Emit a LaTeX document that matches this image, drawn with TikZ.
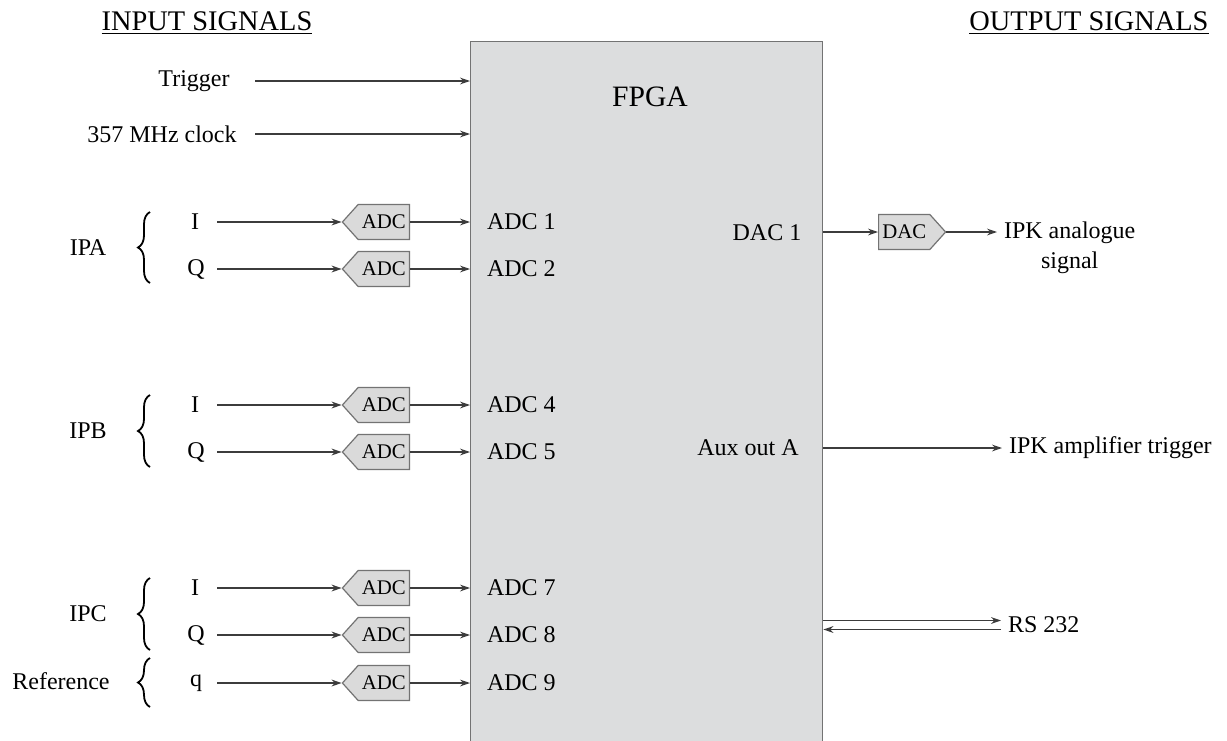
\documentclass[tikz,border=0pt]{standalone}
\usepackage{fontspec}
\setmainfont{Liberation Serif}
\usetikzlibrary{arrows.meta,shapes.symbols,decorations.pathreplacing,calc}
\definecolor{boxgray} {RGB}{220,221,222}
\definecolor{adcgray} {RGB}{218,218,218}
\definecolor{edgegray}{RGB}{115,115,115}
\definecolor{wiregray}{RGB}{60, 60, 60}

\begin{document}
\begin{tikzpicture}[x=0.5pt,y=-0.5pt,
  every node/.style={font=\fontsize{12}{14.8}\selectfont},
  hdr/.style={font=\fontsize{14.2}{17}\selectfont},
  sig/.style={draw=wiregray,line width=0.65pt,
              -{Stealth[length=5pt,width=3.4pt,inset=1.6pt]}},
  conv/.style={signal,signal from=nowhere,draw=edgegray,fill=adcgray,
               line width=0.6pt,minimum height=17.5pt,minimum width=33.5pt,
               inner sep=1pt,signal pointer angle=96,
               font=\fontsize{10.4}{12}\selectfont},
  adc/.style={conv,signal to=west},
  dac/.style={conv,signal to=east},
  grp/.style={draw,line width=0.9pt,decorate,decoration={brace,amplitude=6pt}},
  port/.style={anchor=west},
]
\clip (0,0) rectangle (1227,740);

%% FPGA block
\node[draw=edgegray,fill=boxgray,line width=0.7pt,anchor=north west,inner sep=0pt,
      minimum width=176pt,minimum height=360pt] (fpga) at (470,41) {};
\node[font=\fontsize{14.8}{17}\selectfont] (fpgalbl) at (650,97) {FPGA};

%% Headings
\node[hdr] (inhdr)  at (207,23)  {\underline{INPUT SIGNALS}};
\node[hdr] (outhdr) at (1089,23) {\underline{OUTPUT SIGNALS}};

%% start of the input lines
\coordinate (clkx) at (255,0);
\coordinate (inx)  at (217,0);

%% Trigger and clock
\node (trig) at (194,81)  {Trigger};
\node (clk)  at (162,134) {357 MHz clock};
\draw[sig] (trig -| clkx) -- (trig -| fpga.west);
\draw[sig] (clk -| clkx)  -- (clk -| fpga.west);

%% IPA
\node (ipa) at (88,248) {IPA};
\draw[grp] (150,283) -- (150,212);
\node (aI) at (195,222) {I};
\node (aQ) at (196,269) {Q};
\node[adc,anchor=east] (adc1) at (410,222) {ADC};
\node[adc,anchor=east] (adc2) at (410,269) {ADC};
\node[port] (p1) at (480,222) {ADC 1};
\node[port] (p2) at (480,269) {ADC 2};
\draw[sig] (aI -| inx) -- (adc1.west);
\draw[sig] (aQ -| inx) -- (adc2.west);
\draw[sig] (adc1.east) -- (adc1 -| fpga.west);
\draw[sig] (adc2.east) -- (adc2 -| fpga.west);

%% IPB
\node (ipb) at (88,431) {IPB};
\draw[grp] (150,467) -- (150,395);
\node (bI) at (195,405) {I};
\node (bQ) at (196,452) {Q};
\node[adc,anchor=east] (adc4) at (410,405) {ADC};
\node[adc,anchor=east] (adc5) at (410,452) {ADC};
\node[port] (p4) at (480,405) {ADC 4};
\node[port] (p5) at (480,452) {ADC 5};
\draw[sig] (bI -| inx) -- (adc4.west);
\draw[sig] (bQ -| inx) -- (adc5.west);
\draw[sig] (adc4.east) -- (adc4 -| fpga.west);
\draw[sig] (adc5.east) -- (adc5 -| fpga.west);

%% IPC
\node (ipc) at (88,614) {IPC};
\draw[grp] (150,650) -- (150,578);
\node (cI) at (195,588) {I};
\node (cQ) at (196,635) {Q};
\node[adc,anchor=east] (adc7) at (410,588) {ADC};
\node[adc,anchor=east] (adc8) at (410,635) {ADC};
\node[port] (p7) at (480,588) {ADC 7};
\node[port] (p8) at (480,635) {ADC 8};
\draw[sig] (cI -| inx) -- (adc7.west);
\draw[sig] (cQ -| inx) -- (adc8.west);
\draw[sig] (adc7.east) -- (adc7 -| fpga.west);
\draw[sig] (adc8.east) -- (adc8 -| fpga.west);

%% Reference
\node (refl) at (61,681) {Reference};
\draw[grp] (150,707) -- (150,658);
\node (rq) at (196,683) {q};
\node[adc,anchor=east] (adc9) at (410,683) {ADC};
\node[port] (p9) at (480,683) {ADC 9};
\draw[sig] (rq -| inx) -- (adc9.west);
\draw[sig] (adc9.east) -- (adc9 -| fpga.west);

%% DAC output
\node (dac1) at (767,233) {DAC 1};
\node[dac,anchor=west] (dacc) at (878,232) {DAC};
\node[anchor=west,align=center] (ipk) at (997,248) {IPK analogue\\signal};
\draw[sig] (dacc -| fpga.east) -- (dacc.west);
\draw[sig] (dacc.east) -- (dacc -| ipk.west);

%% Aux output
\node (aux) at (748,448) {Aux out A};
\node[anchor=west] (amp) at (1002,448) {IPK amplifier trigger};
\draw[sig] (aux -| fpga.east) -- (amp.west);

%% RS 232 link
\node[anchor=west] (rs) at (1001,625) {RS 232};
\coordinate (rsup) at ([yshift=2.25pt]rs.west);
\coordinate (rsdn) at ([yshift=-2.25pt]rs.west);
\draw[sig] (rsup -| fpga.east) -- (rsup);
\draw[sig] (rsdn) -- (rsdn -| fpga.east);

\end{tikzpicture}
\end{document}
